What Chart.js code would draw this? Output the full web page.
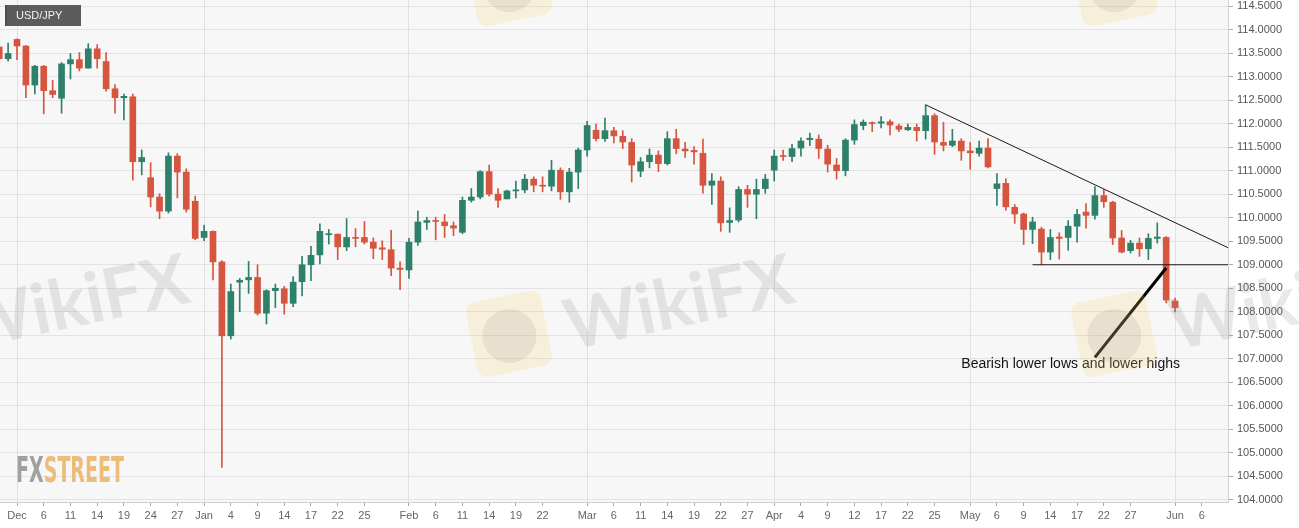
<!DOCTYPE html>
<html>
<head>
<meta charset="utf-8">
<script src="https://cdn.jsdelivr.net/npm/chart.js@4.4.1/dist/chart.umd.min.js"></script>
<style>
  html, body { margin: 0; padding: 0; background: #fff; }
</style>
</head>
<body>
<canvas id="myChart" width="1299" height="528"></canvas>
<script>
// daily USD/JPY candles, Nov 29 2018 -> Jun 3 2019 (one per weekday)
const openP = [113.63,113.38,113.79,113.65,112.82,113.22,112.70,112.54,113.27,113.36,
  113.18,113.59,113.32,112.74,112.55,112.57,111.19,110.85,110.44,110.14,
  111.31,110.97,110.35,109.58,109.71,109.06,107.49,108.63,108.68,108.73,
  107.97,108.45,108.49,108.18,108.64,109.00,109.21,109.64,109.65,109.38,
  109.58,109.58,109.48,109.36,109.32,108.93,108.89,109.48,109.90,109.94,
  109.91,109.83,109.69,110.37,110.44,110.98,110.50,110.40,110.57,110.59,
  110.82,110.69,110.67,111.01,110.55,110.97,111.44,111.86,111.68,111.85,
  111.73,111.60,110.99,111.19,111.33,111.15,111.68,111.46,111.43,111.37,
  110.69,110.78,109.90,109.95,110.60,110.50,110.62,111.01,111.32,111.30,
  111.48,111.66,111.67,111.46,111.12,111.00,111.65,111.96,112.02,112.01,
  112.04,111.95,111.87,111.92,111.85,112.17,111.60,111.54,111.63,111.42,
  111.37,111.48,110.62,110.73,110.22,110.08,109.75,109.76,109.27,109.59,
  109.58,109.82,110.12,110.05,110.47,110.33,109.57,109.30,109.46,109.34,
  109.56,109.58,108.23]
const highP = [113.70,113.71,113.80,113.66,113.24,113.24,112.92,113.30,113.49,113.51,
  113.70,113.68,113.51,112.83,112.63,112.63,111.44,111.17,110.51,111.38,
  111.36,111.04,110.46,109.84,109.72,109.09,108.59,108.71,109.07,109.00,
  108.47,108.59,108.54,108.75,109.18,109.39,109.87,109.75,109.66,109.98,
  109.77,109.92,109.57,109.51,109.73,109.06,109.56,110.14,110.01,110.01,
  110.07,109.91,110.44,110.62,111.00,111.12,110.62,110.59,110.78,110.92,
  110.87,110.87,111.22,111.06,111.05,111.48,112.05,111.99,112.12,111.92,
  111.85,111.68,111.28,111.46,111.42,111.83,111.88,111.60,111.51,111.67,
  110.94,110.87,110.21,110.66,110.69,110.82,110.92,111.44,111.44,111.56,
  111.70,111.80,111.76,111.54,111.26,111.68,112.08,112.08,112.04,112.15,
  112.08,111.99,111.99,111.99,112.40,112.21,112.03,111.88,111.68,111.60,
  111.63,111.68,110.94,110.83,110.28,110.10,110.01,109.80,109.75,109.68,
  109.94,110.18,110.30,110.66,110.60,110.35,109.73,109.52,109.57,109.66,
  109.89,109.60,108.29]
const lowP = [113.17,113.33,113.36,112.55,112.63,112.21,112.55,112.22,112.95,113.12,
  113.18,113.18,112.69,112.22,112.08,110.80,110.91,110.23,109.98,110.10,
  110.42,110.12,109.53,109.51,108.68,104.69,107.42,108.00,108.39,107.93,
  107.74,108.09,107.95,108.11,108.34,108.66,109.02,109.44,109.11,109.30,
  109.38,109.44,109.13,109.11,108.77,108.47,108.71,109.41,109.75,109.53,
  109.58,109.62,109.66,110.33,110.40,110.46,110.22,110.40,110.42,110.53,
  110.55,110.55,110.57,110.39,110.33,110.62,111.31,111.63,111.62,111.59,
  111.47,110.76,110.87,111.06,110.98,111.12,111.36,111.28,111.14,110.52,
  110.28,109.71,109.69,109.91,110.22,109.98,110.52,110.78,111.22,111.19,
  111.31,111.53,111.26,110.97,110.82,110.89,111.56,111.87,111.83,111.91,
  111.76,111.83,111.85,111.63,111.67,111.35,111.42,111.51,111.22,111.03,
  111.31,111.06,110.26,110.16,109.88,109.43,109.45,109.00,109.11,109.12,
  109.31,109.48,109.78,109.97,110.22,109.43,109.25,109.25,109.18,109.11,
  109.46,108.19,108.00]
const closeP = [113.38,113.49,113.65,112.82,113.22,112.70,112.62,113.27,113.36,113.18,
  113.59,113.38,112.74,112.55,112.58,111.19,111.28,110.44,110.14,111.31,
  110.97,110.18,109.56,109.71,109.06,107.49,108.43,108.67,108.73,107.97,
  108.45,108.50,108.18,108.63,109.00,109.20,109.71,109.66,109.38,109.58,
  109.56,109.48,109.35,109.33,108.93,108.90,109.48,109.91,109.94,109.92,
  109.83,109.78,110.37,110.44,110.98,110.50,110.37,110.57,110.59,110.82,
  110.69,110.67,111.01,110.55,110.97,111.44,111.96,111.68,111.85,111.74,
  111.61,111.12,111.19,111.33,111.15,111.68,111.47,111.42,111.40,110.69,
  110.78,109.89,109.94,110.60,110.50,110.60,110.82,111.31,111.30,111.47,
  111.63,111.69,111.47,111.14,111.00,111.65,111.98,112.03,112.00,112.04,
  111.97,111.88,111.92,111.85,112.17,111.61,111.54,111.63,111.42,111.38,
  111.48,111.08,110.72,110.23,110.08,109.75,109.91,109.27,109.58,109.56,
  109.82,110.07,110.05,110.47,110.34,109.57,109.27,109.46,109.34,109.56,
  109.59,108.25,108.09]

// x axis labels
const tickDates = ['2018-12-03','2018-12-06','2018-12-11','2018-12-14','2018-12-19','2018-12-24','2018-12-27',
  '2019-01-01','2019-01-04','2019-01-09','2019-01-14','2019-01-17','2019-01-22','2019-01-25',
  '2019-02-01','2019-02-06','2019-02-11','2019-02-14','2019-02-19','2019-02-22',
  '2019-03-01','2019-03-06','2019-03-11','2019-03-14','2019-03-19','2019-03-22','2019-03-27',
  '2019-04-01','2019-04-04','2019-04-09','2019-04-12','2019-04-17','2019-04-22','2019-04-25',
  '2019-05-01','2019-05-06','2019-05-09','2019-05-14','2019-05-17','2019-05-22','2019-05-27',
  '2019-06-03','2019-06-06']
const tickLabels = ['Dec','6','11','14','19','24','27',
  'Jan','4','9','14','17','22','25',
  'Feb','6','11','14','19','22',
  'Mar','6','11','14','19','22','27',
  'Apr','4','9','12','17','22','25',
  'May','6','9','14','17','22','27',
  'Jun','6']
const monthLabels = ['Dec','Jan','Feb','Mar','Apr','May','Jun']
const yTicks = [104.0,104.5,105.0,105.5,106.0,106.5,107.0,107.5,108.0,108.5,109.0,109.5,
  110.0,110.5,111.0,111.5,112.0,112.5,113.0,113.5,114.0,114.5]

// drawn lines (date, price)
const trendLine = [['2019-04-24', 112.40], ['2019-05-21', 110.70]]
const supportLine = [['2019-05-10', 109.00]]
const arrowLine = [['2019-05-21', 107.03], ['2019-05-31', 108.93]]
const noteText = 'Bearish lower lows and lower highs'
const notePos = ['2019-04-30', 106.89]

const upColor = '#2d806a'
const downColor = '#d5553f'

// weekday calendar for the axis (data starts at the first one)
const dates = []
let day = new Date(Date.UTC(2018, 10, 29))
while (day <= new Date(Date.UTC(2019, 5, 7))) {
    if (day.getUTCDay() !== 0 && day.getUTCDay() !== 6) dates.push(day.toISOString().slice(0, 10))
    day = new Date(day.getTime() + 86400000)
}
const idx = d => dates.indexOf(d)
const tickIdx = tickDates.map(idx)

const candleColors = openP.map((o, i) => closeP[i] >= o ? upColor : downColor)

// background, watermark logo, lines and label
const decorPlugin = {
    id: 'decor',
    beforeDraw(chart) {
        const { ctx, chartArea: a } = chart
        ctx.save()
        ctx.fillStyle = '#fff'
        ctx.fillRect(0, 0, chart.width, chart.height)
        ctx.fillStyle = '#f7f7f7'
        ctx.fillRect(a.left, a.top, a.right - a.left, a.bottom - a.top)
        ctx.restore()
    },
    beforeDatasetsDraw(chart) {
        const { ctx, chartArea: a } = chart
        //FXSTREET logo, bottom left
        ctx.save()
        ctx.font = 'bold 36px "Liberation Sans Narrow", "DejaVu Sans Condensed", sans-serif'
        const w1 = ctx.measureText('FX').width
        const w2 = ctx.measureText('STREET').width
        ctx.translate(a.left + 16, a.bottom - 20)
        ctx.scale(108 / (w1 + w2), 1)
        ctx.fillStyle = '#a0a0a0'
        ctx.fillText('FX', 0, 0)
        ctx.fillStyle = '#ecbd7a'
        ctx.fillText('STREET', w1, 0)
        ctx.restore()
    },
    afterDatasetsDraw(chart) {
        const { ctx, chartArea: a } = chart
        const xs = chart.scales.x, ys = chart.scales.y
        const px = d => xs.getPixelForValue(idx(d))
        const py = v => ys.getPixelForValue(v)
        ctx.save()
        ctx.beginPath()
        ctx.rect(a.left, a.top, a.right - a.left, a.bottom - a.top)
        ctx.clip()
        ctx.strokeStyle = '#1a1a1a'

        // falling trend line, extended to the right edge
        const x1 = px(trendLine[0][0]), y1 = py(trendLine[0][1])
        const x2 = px(trendLine[1][0]), y2 = py(trendLine[1][1])
        const slope = (y2 - y1) / (x2 - x1)
        ctx.lineWidth = 1
        ctx.beginPath()
        ctx.moveTo(x1, y1)
        ctx.lineTo(a.right, y1 + slope * (a.right - x1))
        ctx.stroke()

        // support line
        ctx.beginPath()
        ctx.moveTo(px(supportLine[0][0]), py(supportLine[0][1]))
        ctx.lineTo(a.right, py(supportLine[0][1]))
        ctx.stroke()

        // thick pointer
        ctx.lineWidth = 3
        ctx.strokeStyle = '#000'
        ctx.beginPath()
        ctx.moveTo(px(arrowLine[0][0]), py(arrowLine[0][1]))
        ctx.lineTo(px(arrowLine[1][0]), py(arrowLine[1][1]))
        ctx.stroke()

        ctx.fillStyle = '#111'
        ctx.font = '14px "Liberation Sans", Arial, sans-serif'
        ctx.textAlign = 'left'
        ctx.textBaseline = 'middle'
        ctx.fillText(noteText, px(notePos[0]), py(notePos[1]))
        ctx.restore()
    },
    afterDraw(chart) {
        const { ctx } = chart
        // faint WikiFX watermarks over the whole picture
        const spots = [[-96, 334], [509, 334], [1114, 334], [-96, -17], [509, -17], [1114, -17]]
        spots.forEach(([cx, cy]) => {
            ctx.save()
            ctx.translate(cx, cy)
            ctx.rotate(-0.2)
            ctx.fillStyle = 'rgba(255,210,110,0.2)'
            ctx.beginPath()
            ctx.roundRect(-38, -38, 76, 76, 10)
            ctx.fill()
            ctx.fillStyle = 'rgba(140,130,130,0.14)'
            ctx.beginPath()
            ctx.arc(0, 2, 27, 0, Math.PI * 2)
            ctx.fill()
            ctx.restore()

            ctx.save()
            ctx.translate(cx + 170, cy - 30)
            ctx.rotate(-0.21)
            ctx.font = 'bold 70px Lato, "Open Sans", sans-serif'
            ctx.textAlign = 'center'
            ctx.textBaseline = 'middle'
            ctx.fillStyle = 'rgba(150,132,132,0.19)'
            ctx.fillText('WikiFX', 0, 0)
            ctx.restore()
        })

        // symbol box, top left
        ctx.save()
        ctx.fillStyle = '#5c5c5c'
        ctx.fillRect(5, 5, 76, 21)
        ctx.fillStyle = '#3f524b'
        ctx.fillRect(5, 5, 2, 21)
        ctx.fillStyle = '#f2f2f2'
        ctx.font = '11px "Liberation Sans", Arial, sans-serif'
        ctx.textBaseline = 'middle'
        ctx.fillText('USD/JPY', 16, 16)
        ctx.restore()
    }
}

const ctx = document.getElementById('myChart').getContext('2d')

const myChart = new Chart(ctx, {
    type: 'bar',
    data: {
        datasets: [{
            label: 'body',
            data: openP.map((o, i) => ({ x: i, y: [o, closeP[i]] })),
            backgroundColor: candleColors,
            barThickness: 6,
            minBarLength: 1,
            grouped: false,
            borderWidth: 0
        }, {
            label: 'wick',
            data: openP.map((o, i) => ({ x: i, y: [lowP[i], highP[i]] })),
            backgroundColor: candleColors,
            barThickness: 1,
            grouped: false,
            borderWidth: 0
        }]
    },
    options: {
        responsive: false,
        animation: false,
        events: [],
        layout: { padding: 0 },
        plugins: { legend: { display: false }, tooltip: { enabled: false } },
        scales: {
            x: {
                type: 'linear',
                offset: false,
                min: 0.09,
                max: 137.94,
                afterBuildTicks: scale => {
                    scale.ticks = tickIdx.map(v => ({ value: v }))
                },
                afterFit: scale => {
                    scale.height = 26
                    scale.paddingLeft = 0
                    scale.paddingRight = 0
                },
                grid: {
                    offset: false,
                    color: c => (c.tick && monthLabels.includes(tickLabels[tickIdx.indexOf(c.tick.value)])) ? '#e1e1e1' : 'rgba(0,0,0,0)',
                    tickColor: '#aaa',
                    tickLength: 4
                },
                border: { color: '#cfcfcf' },
                ticks: {
                    autoSkip: false,
                    maxRotation: 0,
                    padding: 3,
                    color: '#666',
                    font: { size: 11, family: '"Liberation Sans", Arial, sans-serif' },
                    callback: v => tickLabels[tickIdx.indexOf(v)]
                }
            },
            y: {
                position: 'right',
                min: 103.957,
                max: 114.628,
                afterBuildTicks: scale => {
                    scale.ticks = yTicks.map(v => ({ value: v }))
                },
                afterFit: scale => {
                    scale.width = 71
                    scale.paddingTop = 0
                    scale.paddingBottom = 0
                },
                grid: { color: '#e3e3e3', tickColor: '#aaa', tickLength: 5 },
                border: { color: '#cfcfcf' },
                ticks: {
                    padding: 4,
                    color: '#555',
                    font: { size: 11, family: '"Liberation Sans", Arial, sans-serif' },
                    callback: v => v.toFixed(4)
                }
            }
        }
    },
    plugins: [decorPlugin]
})
</script>
</body>
</html>
